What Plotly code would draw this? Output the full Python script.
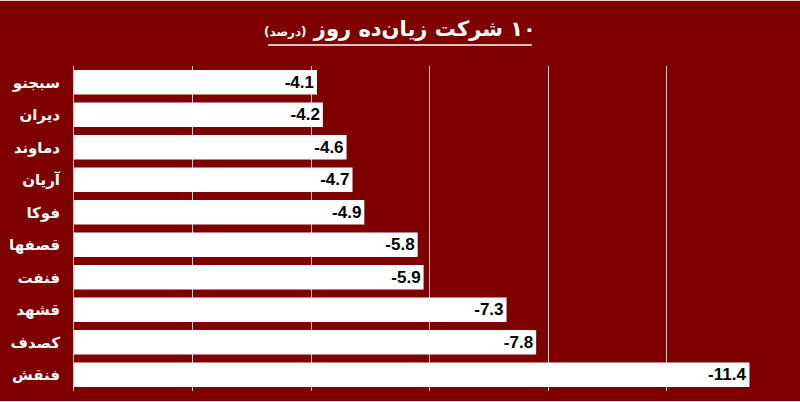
import plotly.graph_objects as go

# companies, top to bottom
symbols = ["سبجنو", "دیران", "دماوند", "آریان", "فوکا", "قصفها", "فنفت", "قشهد", "کصدف", "فنقش"]
change_pct = [-4.1, -4.2, -4.6, -4.7, -4.9, -5.8, -5.9, -7.3, -7.8, -11.4]
x_ticks = [0, -2, -4, -6, -8, -10, -12]

BG = "#7f0000"
GRID = "#e8c8c8"

fig = go.Figure()

fig.add_trace(go.Bar(
    x=change_pct,
    y=symbols,
    orientation="h",
    marker=dict(color="white", line=dict(width=0)),
    text=[f"{v:.1f}" for v in change_pct],
    textposition="inside",
    insidetextanchor="end",
    textangle=0,
    textfont=dict(color="black", size=17, weight="bold",
                  family="Liberation Sans Narrow, Arial Narrow, sans-serif"),
    cliponaxis=False,
))

fig.update_layout(
    width=800, height=402,
    paper_bgcolor=BG, plot_bgcolor=BG,
    margin=dict(l=74, r=15, t=66, b=11, autoexpand=False),
    showlegend=False,
    bargap=0.25,
    uniformtext=dict(minsize=17, mode="show"),
)

fig.update_xaxes(
    range=[0, -12], tickvals=x_ticks, showticklabels=False,
    showgrid=True, gridcolor=GRID, gridwidth=1,
    zeroline=False, showline=False,
)
fig.update_yaxes(
    categoryorder="array", categoryarray=symbols, autorange="reversed",
    showgrid=False, zeroline=False,
    showline=True, linecolor=GRID, linewidth=1,
    ticks="", ticklabelstandoff=10,
    tickfont=dict(color="white", size=15, weight="bold", family="DejaVu Sans, sans-serif"),
)

# title (RLM keeps the Persian digits on the right) with underline
fig.add_annotation(
    text="<b>\u200f۱۰ شرکت زیان‌ده روز <span style='font-size:12px'>(درصد)</span></b>",
    xref="paper", yref="paper", x=0.4585, y=1.115,
    showarrow=False, font=dict(color="white", size=21, family="DejaVu Sans, sans-serif"),
    xanchor="center", yanchor="middle",
)
fig.add_shape(
    type="line", xref="paper", yref="paper",
    x0=0.273, x1=0.644, y0=1.065, y1=1.065,
    line=dict(color="white", width=1.5),
)

# thin light edge at top and bottom of the picture
for yy in [1.2015, -0.0323]:
    fig.add_shape(
        type="line", xref="paper", yref="paper",
        x0=-0.11, x1=1.03, y0=yy, y1=yy,
        line=dict(color="#f0d0d0", width=1),
    )

fig.write_html("out.html", config={"displayModeBar": False},
               post_script="document.body.style.margin='0';")
